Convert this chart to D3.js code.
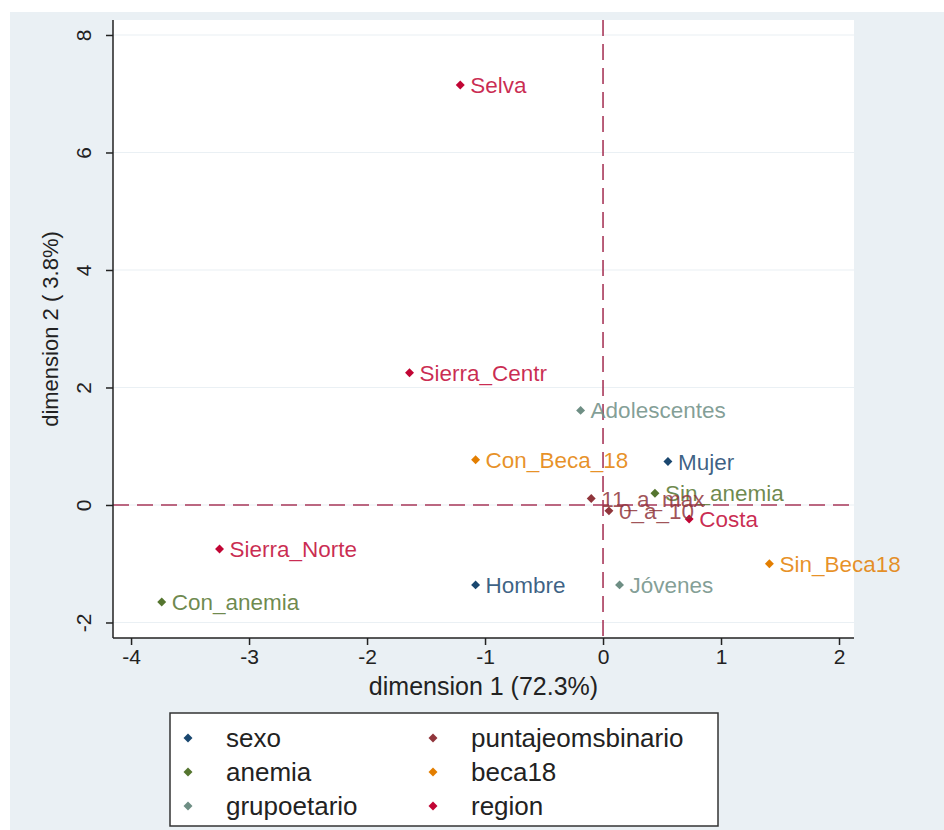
<!DOCTYPE html>
<html>
<head>
<meta charset="utf-8">
<script src="https://cdn.jsdelivr.net/npm/d3@7"></script>
<style>
  body { margin: 0; background: #ffffff; }
  text { font-family: "Liberation Sans", Arial, sans-serif; }
</style>
</head>
<body>
<svg id="chart" width="944" height="830"></svg>
<script>
// ---- data ----
const labels = ["Selva", "Sierra_Centr", "Adolescentes", "Con_Beca_18", "Mujer", "Sin_anemia",
  "11_a_max", "0_a_10", "Costa", "Sin_Beca18", "Sierra_Norte", "Hombre", "Jóvenes", "Con_anemia"];
const dim1 = [-1.21, -1.64, -0.19, -1.08, 0.55, 0.44, -0.10, 0.05, 0.73, 1.41, -3.25, -1.08, 0.14, -3.74];
const dim2 = [7.15, 2.25, 1.61, 0.77, 0.74, 0.20, 0.11, -0.10, -0.24, -1.00, -0.75, -1.36, -1.36, -1.65];
const groupOf = ["region", "region", "grupoetario", "beca18", "sexo", "anemia",
  "puntajeomsbinario", "puntajeomsbinario", "region", "beca18", "region", "sexo", "grupoetario", "anemia"];
const groups = ["sexo", "puntajeomsbinario", "anemia", "beca18", "grupoetario", "region"];
const groupColors = ["#1a476f", "#90353b", "#55752f", "#e37e00", "#6e8e84", "#c10534"];
const xTicks = [-4, -3, -2, -1, 0, 1, 2];
const yTicks = [-2, 0, 2, 4, 6, 8];
const xTitle = "dimension 1 (72.3%)";
const yTitle = "dimension 2 ( 3.8%)";

// ---- layout ----
const svg = d3.select("#chart");
const L = 113, R = 854, T = 20, B = 638;
const x = d3.scaleLinear().domain([-4.153, 2.127]).range([L, R]);
const y = d3.scaleLinear().domain([-2.264, 8.255]).range([B, T]);
const color = d3.scaleOrdinal().domain(groups).range(groupColors);

// outer background
svg.append("rect").attr("x", 10).attr("y", 12).attr("width", 934).attr("height", 818).attr("fill", "#eaf0f4");
// plot region
svg.append("rect").attr("x", L).attr("y", T).attr("width", R - L).attr("height", B - T).attr("fill", "#ffffff");

// gridlines
svg.append("g").selectAll("line").data(yTicks).join("line")
  .attr("x1", L).attr("x2", R).attr("y1", d => y(d)).attr("y2", d => y(d))
  .attr("stroke", "#eaf0f4").attr("stroke-width", 1.2);

// reference lines
svg.append("line").attr("x1", L).attr("x2", R).attr("y1", y(0)).attr("y2", y(0))
  .attr("stroke", "#a8385a").attr("stroke-width", 1.6).attr("stroke-dasharray", "16,8");
svg.append("line").attr("x1", x(0)).attr("x2", x(0)).attr("y1", T).attr("y2", B)
  .attr("stroke", "#a8385a").attr("stroke-width", 1.6).attr("stroke-dasharray", "16,8");

// axes
const fmt = d => String(d);
const xAxis = svg.append("g").attr("transform", `translate(0,${B})`)
  .call(d3.axisBottom(x).tickValues(xTicks).tickFormat(fmt).tickSize(7).tickSizeOuter(0));
xAxis.select(".domain").attr("stroke", "#222").attr("stroke-width", 1.5).attr("d", `M${L},0H${R}`);
xAxis.selectAll(".tick line").attr("stroke", "#222").attr("stroke-width", 1.5);
xAxis.selectAll(".tick text").attr("font-size", 21).attr("fill", "#222").attr("y", 11).attr("dy", "0.71em")
  .style("font-family", '"Liberation Sans", Arial, sans-serif');

const yAxis = svg.append("g").attr("transform", `translate(${L},0)`)
  .call(d3.axisLeft(y).tickValues(yTicks).tickFormat(fmt).tickSize(7).tickSizeOuter(0));
yAxis.select(".domain").attr("stroke", "#222").attr("stroke-width", 1.5).attr("d", `M0,${T}V${B}`);
yAxis.selectAll(".tick line").attr("stroke", "#222").attr("stroke-width", 1.5);
yAxis.selectAll(".tick text").attr("font-size", 21).attr("fill", "#222")
  .attr("x", null).attr("dy", null)
  .attr("text-anchor", "middle")
  .attr("transform", "translate(-22,0) rotate(-90)")
  .style("font-family", '"Liberation Sans", Arial, sans-serif');

// axis titles
svg.append("text").attr("x", (L + R) / 2).attr("y", 695).attr("text-anchor", "middle")
  .attr("font-size", 25).attr("fill", "#222").text(xTitle);
svg.append("text").attr("transform", `translate(58,${(T + B) / 2}) rotate(-90)`).attr("text-anchor", "middle")
  .attr("font-size", 22).attr("fill", "#222").text(yTitle);

// points
const pts = labels.map((l, i) => ({ label: l, x: dim1[i], y: dim2[i], g: groupOf[i] }));
const diamond = d3.symbol().type(d3.symbolSquare).size(40);
const pg = svg.append("g");
pg.selectAll("path").data(pts).join("path")
  .attr("d", diamond)
  .attr("transform", d => `translate(${x(d.x)},${y(d.y)}) rotate(45)`)
  .attr("fill", d => color(d.g));
pg.selectAll("text").data(pts).join("text")
  .attr("x", d => x(d.x) + 10).attr("y", d => y(d.y)).attr("dy", "0.36em")
  .attr("font-size", 22.5).attr("fill", d => color(d.g)).attr("fill-opacity", 0.85)
  .text(d => d.label);

// legend
const lg = svg.append("g");
lg.append("rect").attr("x", 170).attr("y", 713).attr("width", 548).attr("height", 113)
  .attr("fill", "#ffffff").attr("stroke", "#333").attr("stroke-width", 1.5);
const colX = [188, 433], rowY = [738, 772, 806];
const items = lg.selectAll("g.item").data(groups).join("g").attr("class", "item")
  .attr("transform", (d, i) => `translate(${colX[i % 2]},${rowY[Math.floor(i / 2)]})`);
items.append("path").attr("d", diamond).attr("transform", "rotate(45)").attr("fill", d => color(d));
items.append("text").attr("x", 38).attr("dy", "0.36em").attr("font-size", 26).attr("fill", "#222").text(d => d);
</script>
</body>
</html>
